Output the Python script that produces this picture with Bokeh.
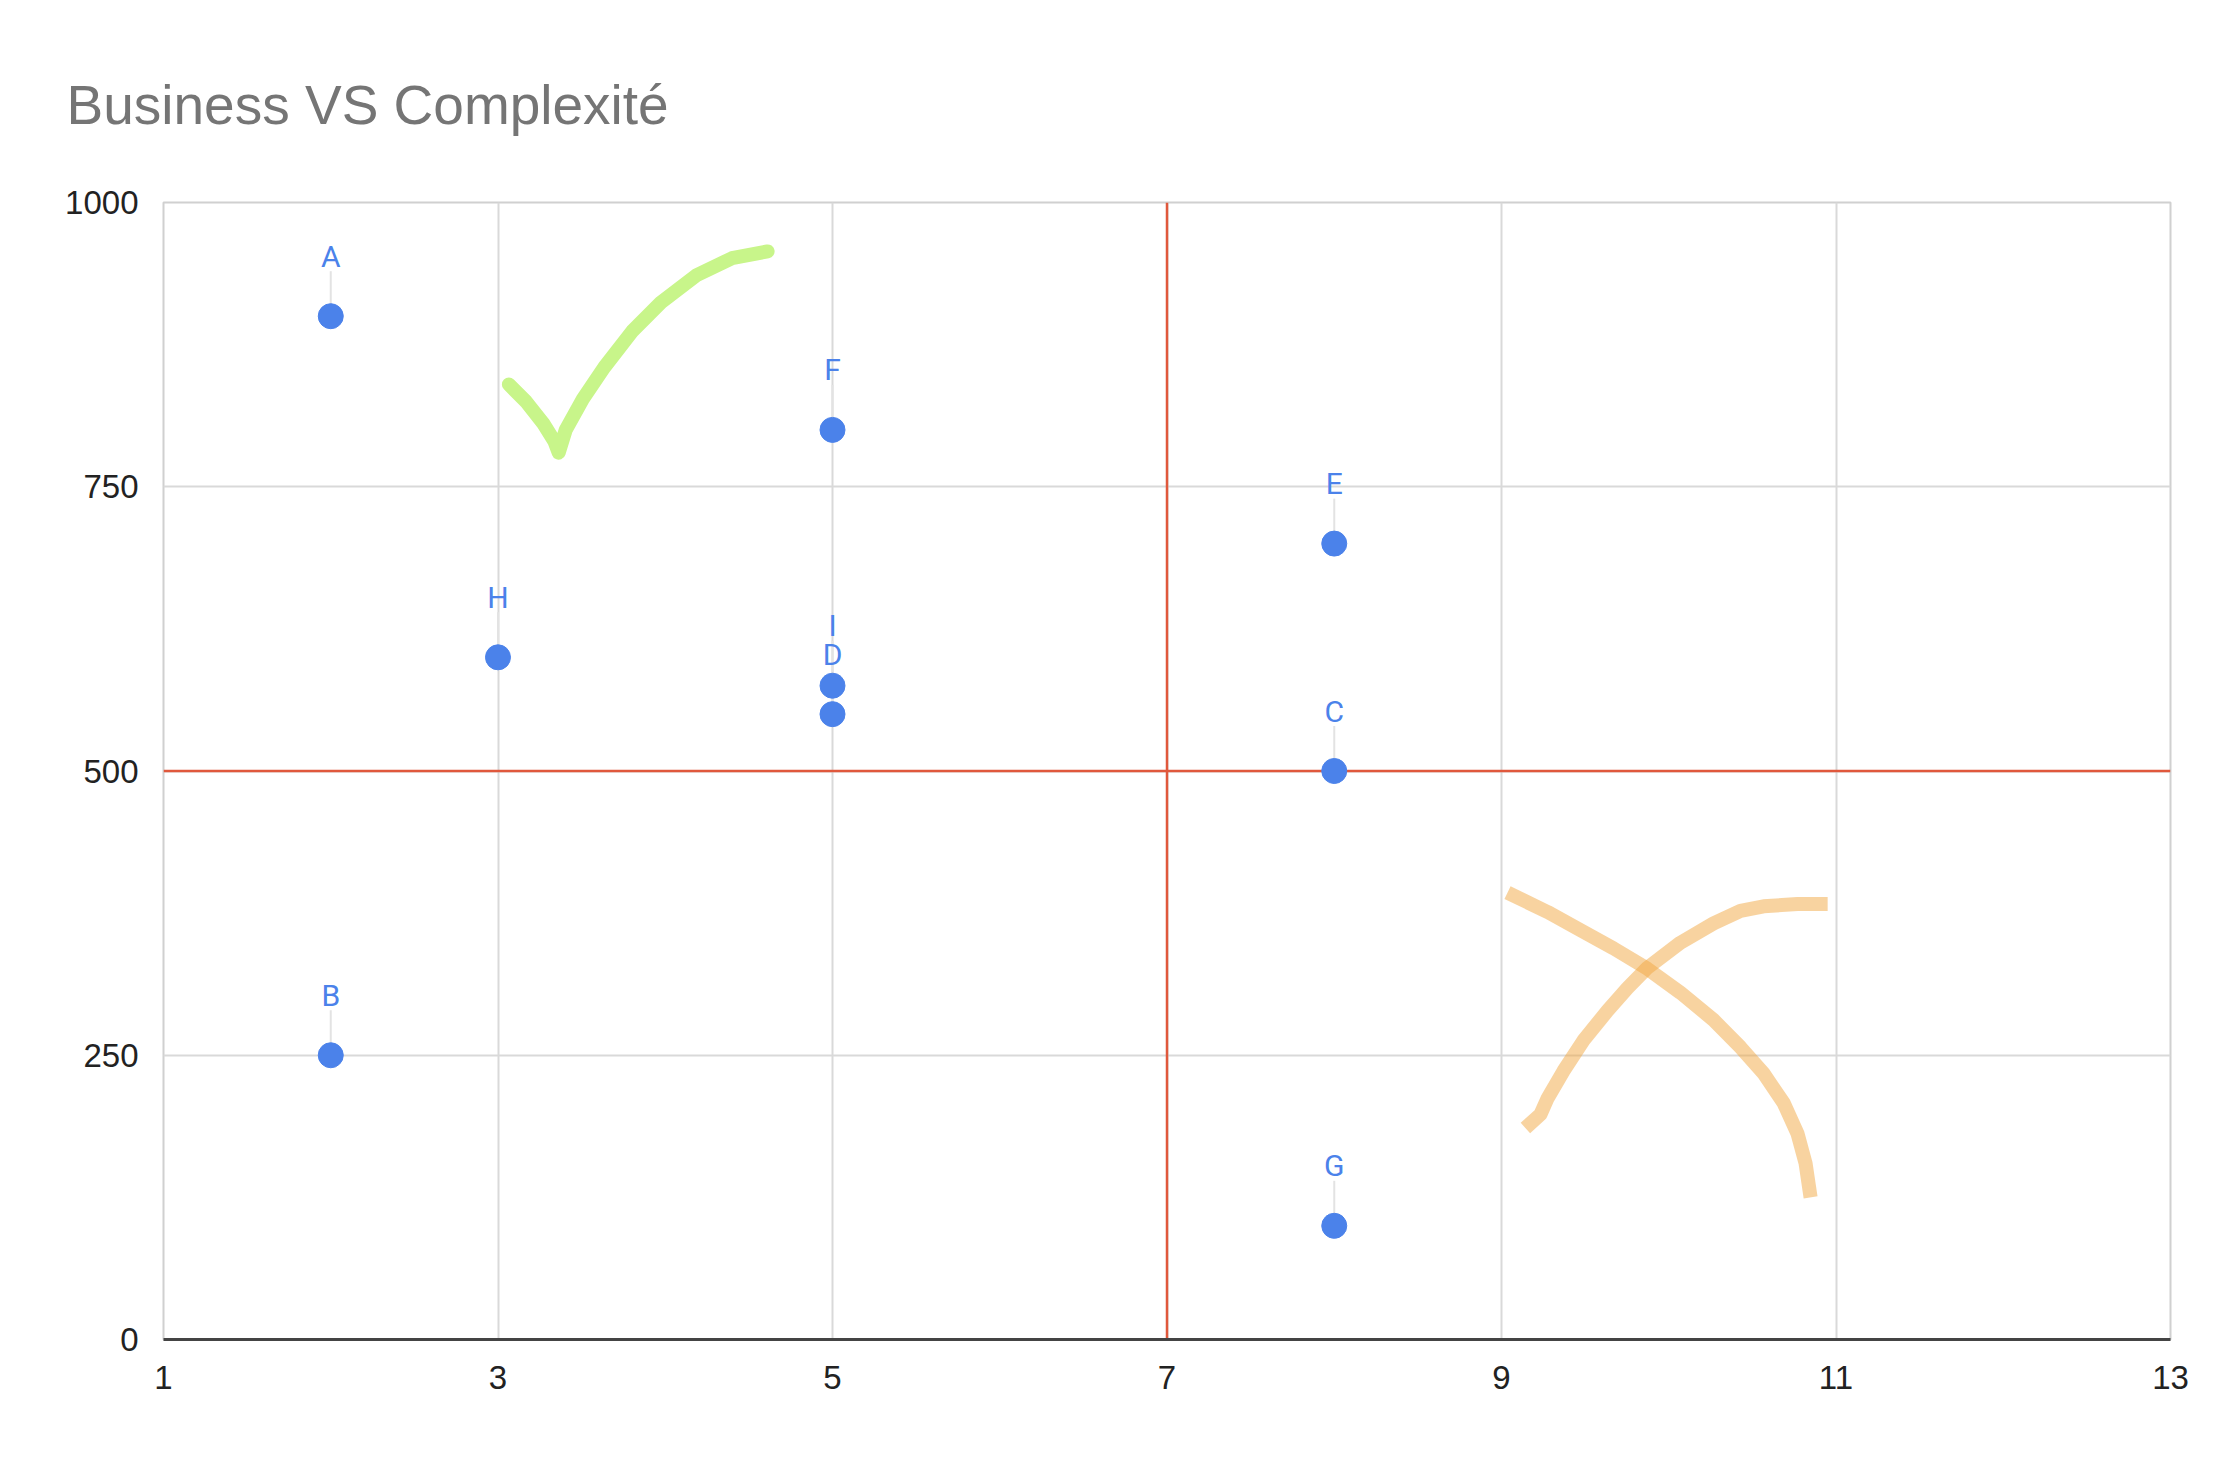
from bokeh.plotting import figure
from bokeh.models import Range1d, FixedTicker, Span
from bokeh.core.properties import value
from bokeh.embed import file_html
from bokeh.resources import INLINE

# ---- data ----
names = ["A", "B", "C", "D", "E", "F", "G", "H", "I"]
complexite = [2, 2, 8, 5, 8, 5, 8, 3, 5]
business = [900, 250, 500, 550, 700, 800, 100, 600, 575]

x_ticks = [1, 3, 5, 7, 9, 11, 13]
y_ticks = [0, 250, 500, 750, 1000]

x_split = 7
y_split = 500

# hand-drawn annotations (data coordinates)
check_x = [3.065, 3.167, 3.269, 3.337, 3.363, 3.405, 3.507, 3.635, 3.804, 3.974, 4.187, 4.399, 4.612]
check_y = [840, 825, 806, 790, 780, 800, 827, 855, 887, 912, 936, 951, 957]

cross1_x = [9.036, 9.275, 9.472, 9.670, 9.873, 10.070, 10.268, 10.429, 10.567, 10.687, 10.770, 10.818, 10.848]
cross1_y = [393, 376, 360, 344, 326, 305, 281, 257, 234, 208, 181, 155, 125]

cross2_x = [9.143, 9.233, 9.275, 9.370, 9.490, 9.633, 9.753, 9.873, 10.070, 10.268, 10.429, 10.567, 10.770, 10.95]
cross2_y = [186, 198, 212, 236, 263, 289, 309, 327, 349, 366, 377, 381, 383, 383]

# ---- figure ----
W, H = 2228, 1458
ML, MR, MT, MB = 163, 58, 202, 119
frame_h = H - MT - MB

p = figure(width=W, height=H, x_range=Range1d(1, 13), y_range=Range1d(0, 1000),
           output_backend="svg", toolbar_location=None,
           min_border_left=ML, min_border_right=MR, min_border_top=MT, min_border_bottom=MB,
           background_fill_color="white", border_fill_color="white")

p.title.text = "Business VS Complexité"
p.title.text_font = "Liberation Sans"
p.title.text_font_size = "55px"
p.title.text_font_style = "normal"
p.title.text_color = "#757575"
p.title.align = "left"
p.title.offset = -97
p.title.standoff = 134

for ax in (p.xaxis, p.yaxis):
    ax.major_label_text_font = "Liberation Sans"
    ax.major_label_text_font_size = "33px"
    ax.major_label_text_color = "#222222"
    ax.major_tick_line_color = None
    ax.minor_tick_line_color = None

p.xaxis.ticker = FixedTicker(ticks=x_ticks)
p.yaxis.ticker = FixedTicker(ticks=y_ticks)
p.xaxis.axis_line_color = "#444444"
p.xaxis.axis_line_width = 3
p.yaxis.axis_line_color = None
p.xaxis.major_label_standoff = 20
p.yaxis.major_label_standoff = 19

p.xgrid.grid_line_color = "#d9d9d9"
p.ygrid.grid_line_color = "#d9d9d9"
p.xgrid.grid_line_width = 2
p.ygrid.grid_line_width = 2
p.outline_line_color = "#d0d0d0"
p.outline_line_width = 2

p.add_layout(Span(location=x_split, dimension="height", line_color="#e0583c",
                  line_width=2.5, level="underlay"))
p.add_layout(Span(location=y_split, dimension="width", line_color="#e0583c",
                  line_width=2.5, level="underlay"))

# hand-drawn marks
p.line(check_x, check_y, line_color="#c8f58a", line_width=14,
       line_join="round", line_cap="round")
p.line(cross1_x, cross1_y, line_color="#f1a741", line_alpha=0.5, line_width=14,
       line_join="round", line_cap="butt")
p.line(cross2_x, cross2_y, line_color="#f1a741", line_alpha=0.5, line_width=14,
       line_join="round", line_cap="butt")

# connectors from label to point
units_per_px = 1000 / frame_h
conn_top = [v + 45 * units_per_px for v in business]
p.segment(x0=complexite, y0=business, x1=complexite, y1=conn_top,
          line_color="#e3e3e3", line_width=2)

p.scatter(complexite, business, size=25, fill_color="#4b82ea", line_color="#4b82ea")
p.text(complexite, business, text=names, y_offset=-60,
       text_align="center", text_baseline="middle",
       text_font=value("Roboto"), text_font_size="30px", text_color="#4b82ea")

open("out.html", "w").write(file_html(p, INLINE))
